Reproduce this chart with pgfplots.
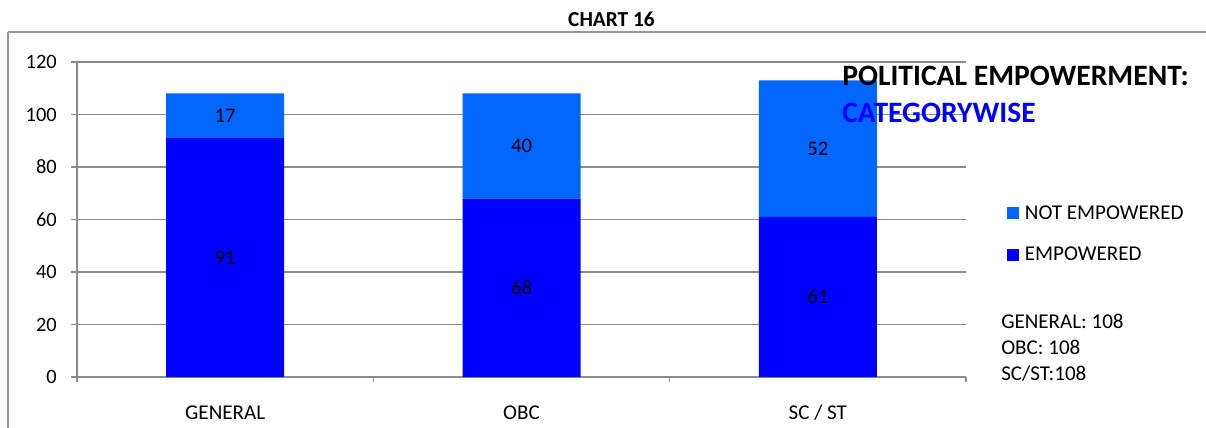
\documentclass[border=0pt]{standalone}
\usepackage{pgfplots}
\pgfplotsset{compat=1.18}
\usepackage{pgfplotstable}
\usepackage{fontspec}
\setmainfont{Carlito}

\definecolor{empblue}{HTML}{0000FF}
\definecolor{notempblue}{HTML}{0066FF}
\definecolor{gridgray}{HTML}{8C8C8C}
\definecolor{framegray}{HTML}{969696}

% category position, empowered, not empowered
\pgfplotstableread{
x    emp  notemp
0.5  91   17
1.5  68   40
2.5  61   52
}\empdata

\begin{document}
\begin{tikzpicture}
% page area
\path[use as bounding box] (0pt,0pt) rectangle (904.5pt,-321pt);
% outer frame (top and left edges)
\draw[framegray, line width=0.8pt] (6pt,-24pt) -- (904.5pt,-24pt);
\draw[framegray, line width=0.8pt] (6pt,-24pt) -- (6pt,-321pt);

\node[font=\fontsize{16}{19}\selectfont\bfseries] at (458.6pt,-14.25pt) {CHART 16};

\begin{axis}[
  at={(57.75pt,-282.75pt)}, anchor=south west,
  scale only axis,
  width=666.75pt, height=236.25pt,
  xmin=0, xmax=3,
  ymin=0, ymax=120,
  ybar stacked,
  bar width=88.5pt,
  axis lines*=left,
  axis line style={gridgray, line width=1pt},
  ymajorgrids,
  grid style={gridgray, line width=1pt},
  ytick={0,20,...,120},
  xtick={0.5,1.5,2.5},
  xticklabels={GENERAL,OBC,SC / ST},
  major x tick style={draw=none},
  extra x ticks={0,1,2,3},
  extra x tick labels={},
  extra x tick style={major tick length=4pt, tick align=outside,
    major x tick style={draw=gridgray, line width=1pt}, grid=none},
  major tick length=4.5pt,
  tick align=outside,
  tick style={gridgray, line width=1pt},
  /pgf/number format/assume math mode=true,
  tick label style={font=\fontsize{15.3}{18}\selectfont, text=black},
  yticklabel style={anchor=east, inner sep=0pt, xshift=-10.5pt},
  xticklabel style={anchor=base, inner sep=0pt, yshift=-27pt,
    font=\fontsize{15.8}{19}\selectfont},
  point meta=explicit,
  nodes near coords,
  nodes near coords style={font=\fontsize{15.5}{18}\selectfont, text=black,
    anchor=center},
  reverse legend,
  legend cell align=left,
  legend style={draw=none, fill=none, inner sep=0pt, outer sep=0pt,
    at={(1.046,0.544)}, anchor=north west,
    font=\fontsize{15.8}{19}\selectfont, row sep=19.5pt,
    nodes={inner sep=0pt, outer sep=0pt}},
  legend image code/.code={\fill[#1] (0pt,-4.5pt) rectangle (9pt,4.5pt);},
  /tikz/every odd column/.append style={column sep=4.5pt},
  clip=false,
]
\addplot[fill=empblue, draw=none] table[x=x, y=emp, meta=emp] {\empdata};
\addlegendentry{EMPOWERED}
\addplot[fill=notempblue, draw=none] table[x=x, y=notemp, meta=notemp] {\empdata};
\addlegendentry{NOT EMPOWERED}
\end{axis}

\node[anchor=west, inner sep=0pt, font=\fontsize{22.2}{27}\selectfont\bfseries] at (631.5pt,-57pt) {POLITICAL EMPOWERMENT:};
\node[anchor=west, inner sep=0pt, font=\fontsize{22.2}{27}\selectfont\bfseries, text=empblue] at (631.5pt,-84.75pt) {CATEGORYWISE};

\begin{scope}[every node/.style={anchor=base west, inner sep=0pt, font=\fontsize{15.8}{19}\selectfont}]
\node at (750.75pt,-246pt) {GENERAL: 108};
\node at (750.75pt,-265.5pt) {OBC: 108};
\node at (750.75pt,-285pt) {SC/ST:108};
\end{scope}
\end{tikzpicture}
\end{document}
